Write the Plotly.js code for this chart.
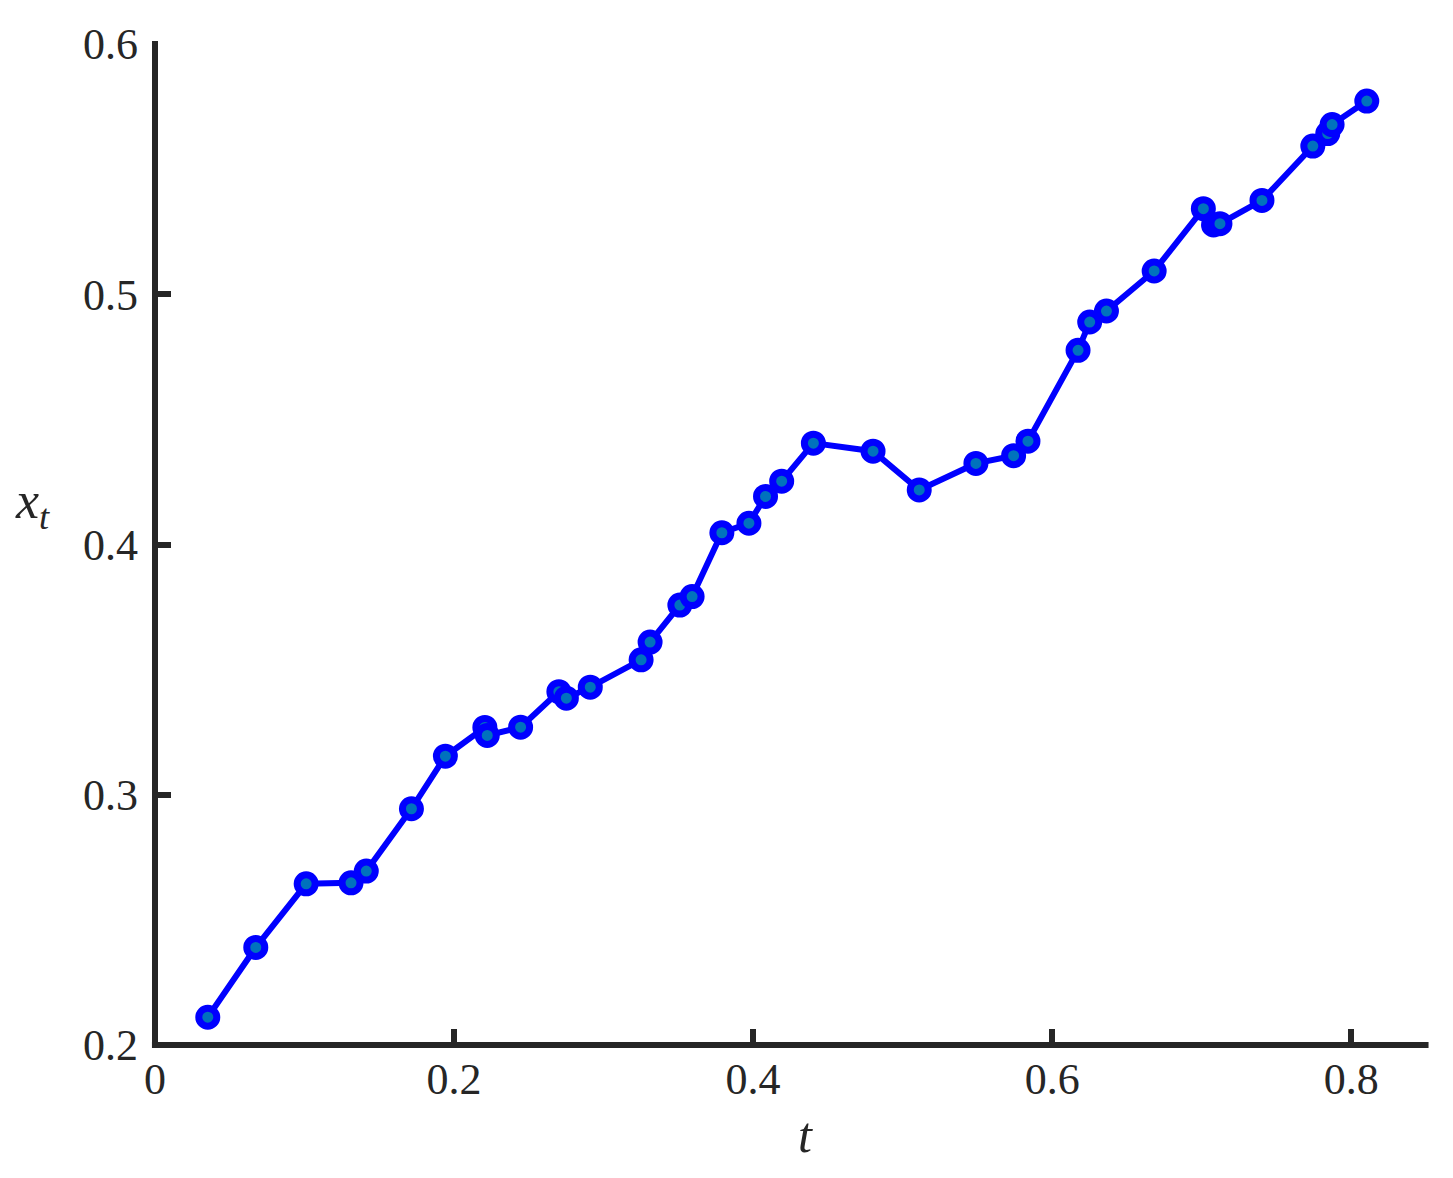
<!DOCTYPE html>
<html>
<head>
<meta charset="utf-8">
<script src="https://cdn.plot.ly/plotly-3.0.1.min.js"></script>
<style>
  html, body { margin: 0; padding: 0; background: #ffffff; }
  #chart { width: 1453px; height: 1178px; }
</style>
</head>
<body>
<div id="chart"></div>
<script>
// time values t
const tValues = [
  0.0353, 0.0674, 0.1011, 0.1311, 0.1413, 0.1715, 0.1942, 0.2206, 0.2222, 0.2445,
  0.2701, 0.2751, 0.2911, 0.3251, 0.3311, 0.3510, 0.3592, 0.3791, 0.3972, 0.4083,
  0.4191, 0.4403, 0.4802, 0.5111, 0.5490, 0.5742, 0.5838, 0.6173, 0.6251, 0.6363,
  0.6682, 0.7011, 0.7079, 0.7122, 0.7403, 0.7743, 0.7843, 0.7872, 0.8104
];
// series values x_t
const xtValues = [
  0.2111, 0.2390, 0.2644, 0.2648, 0.2695, 0.2944, 0.3154, 0.3269, 0.3237, 0.3270,
  0.3412, 0.3386, 0.3430, 0.3539, 0.3610, 0.3758, 0.3792, 0.4047, 0.4085, 0.4192,
  0.4253, 0.4405, 0.4373, 0.4218, 0.4324, 0.4355, 0.4413, 0.4776, 0.4889, 0.4933,
  0.5093, 0.5342, 0.5277, 0.5282, 0.5375, 0.5592, 0.5642, 0.5678, 0.5772
];
const xTickVals = [0, 0.2, 0.4, 0.6, 0.8];
const xTickText = ['0', '0.2', '0.4', '0.6', '0.8'];
const yTickVals = [0.2, 0.3, 0.4, 0.5, 0.6];
const yTickText = ['0.2', '0.3', '0.4', '0.5', '0.6'];

const axisColor = '#262626';
const serif = '"Liberation Serif", "Times New Roman", serif';

const trace = {
  x: tValues,
  y: xtValues,
  type: 'scatter',
  mode: 'lines+markers',
  line: { color: '#0000FF', width: 6 },
  marker: {
    size: 18,
    color: '#0072BD',
    line: { color: '#0000FF', width: 7 }
  },
  hoverinfo: 'skip',
  showlegend: false
};

const layout = {
  width: 1453,
  height: 1178,
  paper_bgcolor: '#ffffff',
  plot_bgcolor: '#ffffff',
  margin: { l: 155, r: 27, t: 44, b: 133 },
  font: { family: serif, size: 44, color: axisColor },
  xaxis: {
    range: [0, 0.85],
    tickvals: xTickVals,
    ticktext: xTickText,
    ticks: 'inside',
    ticklen: 16,
    tickwidth: 6,
    tickcolor: axisColor,
    showline: false,
    showgrid: false,
    zeroline: false,
    ticklabelstandoff: 4,
    tickfont: { family: serif, size: 44, color: axisColor }
  },
  yaxis: {
    range: [0.2, 0.6],
    tickvals: yTickVals,
    ticktext: yTickText,
    ticks: 'inside',
    ticklen: 16,
    tickwidth: 6,
    tickcolor: axisColor,
    showline: false,
    showgrid: false,
    zeroline: false,
    ticklabelstandoff: 16,
    tickfont: { family: serif, size: 44, color: axisColor }
  },
  shapes: [
    {
      type: 'line', xref: 'paper', yref: 'paper',
      x0: 0, x1: 0, y0: -0.003, y1: 1.003,
      line: { color: axisColor, width: 6 }, layer: 'above'
    },
    {
      type: 'line', xref: 'paper', yref: 'paper',
      x0: -0.0024, x1: 1.002, y0: 0, y1: 0,
      line: { color: axisColor, width: 6 }, layer: 'above'
    }
  ],
  annotations: [
    {
      text: '<i>x</i><sub><i>t</i></sub>',
      xref: 'paper', yref: 'paper',
      x: -0.096, y: 0.54,
      xanchor: 'center', yanchor: 'middle',
      showarrow: false,
      font: { family: serif, size: 52, color: axisColor }
    },
    {
      text: '<i>t</i>',
      xref: 'paper', yref: 'paper',
      x: 0.512, y: -0.09,
      xanchor: 'center', yanchor: 'middle',
      showarrow: false,
      font: { family: serif, size: 50, color: axisColor }
    }
  ]
};

Plotly.newPlot('chart', [trace], layout, { displayModeBar: false, staticPlot: true });
</script>
</body>
</html>
